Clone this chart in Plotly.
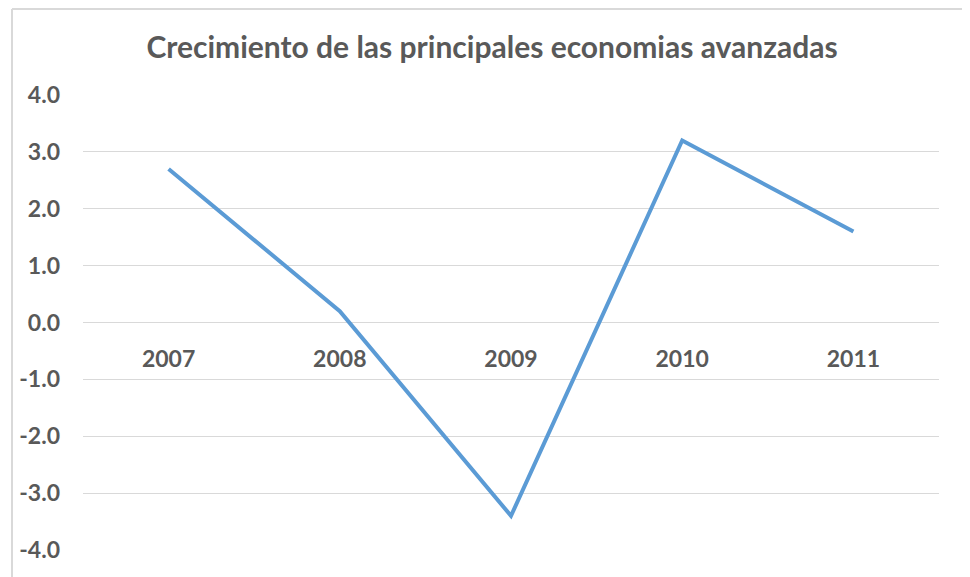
import plotly.graph_objects as go

years = ['2007', '2008', '2009', '2010', '2011']
growth = [2.7, 0.2, -3.4, 3.2, 1.6]
y_ticks = [-4, -3, -2, -1, 0, 1, 2, 3, 4]
y_tick_labels = ['-4.0', '-3.0', '-2.0', '-1.0', '0.0', '1.0', '2.0', '3.0', '4.0']
title_text = 'Crecimiento de las principales economias avanzadas'

W, H = 970, 577
# the page body adds an 8px offset, so margins are shifted to compensate
OFF = 8
L, R, T, B = 83 - OFF, 39, 95 - OFF, 35
pw, ph = W - L - R, H - T - B

grey_text = '#595959'
grid = '#D9D9D9'
font_family = 'Lato, "Open Sans", sans-serif'

fig = go.Figure()
fig.add_trace(
    go.Scatter(
        x=years,
        y=growth,
        mode='lines',
        line={'color': '#5B9BD5', 'width': 4},
        showlegend=False,
        hoverinfo='x+y',
    )
)

# chart frame (only the left and top edges are visible in the crop)
fx = (12 - OFF - L) / pw
fy = 1 + (T - 1) / ph
fig.add_shape(type='line', xref='paper', yref='paper', x0=fx, x1=fx, y0=fy, y1=-0.2,
              line={'color': grid, 'width': 2})
fig.add_shape(type='line', xref='paper', yref='paper', x0=fx, x1=1.2, y0=fy, y1=fy,
              line={'color': grid, 'width': 2})

fig.update_layout(
    width=W,
    height=H,
    margin={'l': L, 'r': R, 't': T, 'b': B},
    paper_bgcolor='white',
    plot_bgcolor='white',
    font={'family': font_family, 'color': grey_text},
    title={
        'text': title_text,
        'x': (492 - OFF) / W,
        'xanchor': 'center',
        'y': 1 - (47 - OFF) / H,
        'yanchor': 'middle',
        'font': {'size': 30, 'color': grey_text, 'family': font_family, 'weight': 'bold'},
    },
    xaxis={
        'type': 'category',
        'range': [-0.5, 4.5],
        'anchor': 'free',
        'position': 0.5,
        'showline': False,
        'showgrid': False,
        'zeroline': False,
        'ticks': '',
        'ticklabelstandoff': 20,
        'tickfont': {'size': 23, 'color': grey_text, 'weight': 'bold'},
    },
    yaxis={
        'range': [-4, 4],
        'tickvals': y_ticks,
        'ticktext': y_tick_labels,
        'showgrid': True,
        'gridcolor': grid,
        'gridwidth': 1,
        'zeroline': False,
        'showline': False,
        'ticks': '',
        'ticklabelstandoff': 22,
        'tickfont': {'size': 23, 'color': grey_text, 'weight': 'bold'},
    },
)

fig.write_html('out.html')
